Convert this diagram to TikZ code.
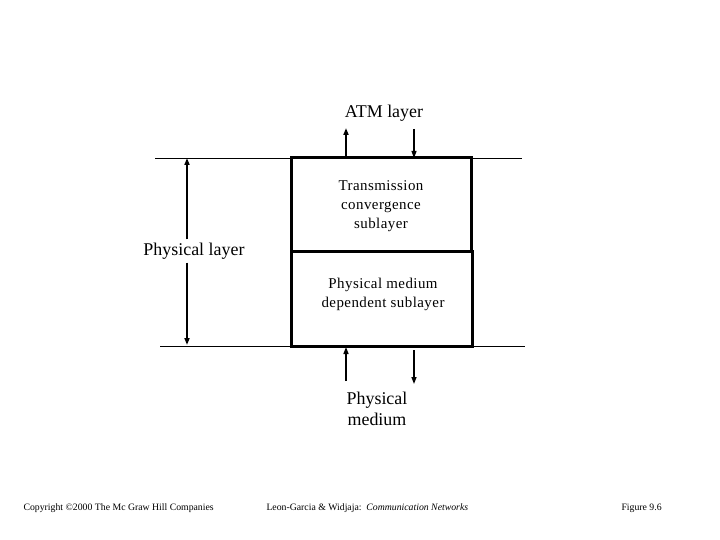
\documentclass[tikz,border=0pt]{standalone}
\usepackage{fontspec}
\setmainfont{Liberation Serif}
\usetikzlibrary{arrows.meta}

\begin{document}
\begin{tikzpicture}[x=1bp, y=-1bp,
    tip/.style={-{Triangle[length=7bp, width=5bp]}},
    boxtext/.style={align=center, font=\fontsize{15}{19}\selectfont\addfontfeature{LetterSpace=3}},
    bigtext/.style={align=center, font=\fontsize{18}{21}\selectfont},
    foot/.style={anchor=west, font=\fontsize{9.8}{11}\selectfont}]
            \useasboundingbox (0, 0) rectangle (720, 540);
            % layer boundaries
            \draw[thin] (155, 158)--(522, 158);
            \draw[thin] (160, 346)--(525, 346);
            % the two sublayers
            \draw[line width=3bp] (291, 158) rectangle (471, 252);
            \draw[line width=3bp] (291, 252) rectangle (472, 346);
            \node[boxtext] (tc) at (381, 206) {Transmission\\convergence\\sublayer};
            \node[boxtext] (pmd) at (383, 294) {Physical medium\\dependent sublayer};
            % ATM layer
            \node[bigtext] (atm) at (384, 113) {ATM layer};
            \coordinate (atmup1) at (346, 157);
            \coordinate (atmup2) at (346, 128);
            \coordinate (atmdn1) at (414, 129);
            \coordinate (atmdn2) at (414, 158);
            \draw[tip, line width=2bp] (atmup1)--(atmup2);
            \draw[tip, line width=1.2bp] (atmdn1)--(atmdn2);
            % physical layer extent
            \node[bigtext] (phy) at (194, 251) {Physical layer};
            \coordinate (phytop) at (187, 158);
            \coordinate (phybot) at (187, 345);
            \draw[tip, line width=2bp] (phy.north -| phytop)--(phytop);
            \draw[tip, line width=2bp] (phy.south -| phybot)--(phybot);
            % physical medium
            \node[bigtext] (med) at (377, 409) {Physical\\medium};
            \coordinate (medup1) at (346, 381);
            \coordinate (medup2) at (346, 347);
            \coordinate (meddn1) at (414, 350);
            \coordinate (meddn2) at (414, 384);
            \draw[tip, line width=1.5bp] (medup1)--(medup2);
            \draw[tip, line width=1.5bp] (meddn1)--(meddn2);
            % footer
            \node[foot] (copy) at (20, 508) {Copyright \textcopyright 2000 The Mc Graw Hill Companies};
            \node[foot] (book) at (263, 508) {Leon-Garcia \& Widjaja:\ \ \textit{Communication Networks}};
            \node[foot] (fig) at (618, 508) {Figure 9.6};
        \end{tikzpicture}
\end{document}
